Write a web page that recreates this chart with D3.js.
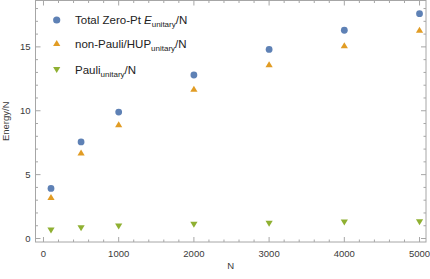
<!DOCTYPE html>
<html><head><meta charset="utf-8">
<script src="https://cdn.jsdelivr.net/npm/d3@7"></script>
<style>body{margin:0;background:#fff}svg{display:block;font-family:"Liberation Sans",Arial,sans-serif}</style>
</head><body><svg id="c" width="430" height="279"></svg>
<script>
const Nvals = [100, 500, 1000, 2000, 3000, 4000, 5000];
const totalE = [3.92, 7.56, 9.9, 12.8, 14.8, 16.3, 17.6];
const nonPauli = [3.22, 6.7, 8.92, 11.7, 13.6, 15.1, 16.3];
const pauli = [0.66, 0.84, 0.98, 1.1, 1.19, 1.29, 1.31];
const xTicks = [0, 1000, 2000, 3000, 4000, 5000];
const yTicks = [0, 5, 10, 15];

const svg = d3.select("#c");
const L = 35.5, R = 426, T = 0.5, B = 242;
const x = d3.scaleLinear().domain([-106, 5086]).range([L, R]);
const y = d3.scaleLinear().domain([-0.273, 18.63]).range([B, T]);
const frameCol = "#a6a6a6", labCol = "#3a3a3a";

// frame
svg.append("rect").attr("x", L).attr("y", T).attr("width", R - L).attr("height", B - T)
  .attr("fill", "none").attr("stroke", frameCol).attr("stroke-width", 1);

const xMinor = d3.range(-0, 5001, 200).filter(v => v % 1000 !== 0);
const yMinor = d3.range(0, 19, 1).filter(v => v % 5 !== 0);
const g = svg.append("g").attr("stroke", frameCol).attr("stroke-width", 1);
xTicks.forEach(v => { const px = x(v);
  g.append("line").attr("x1", px).attr("x2", px).attr("y1", B).attr("y2", B - 5);
  g.append("line").attr("x1", px).attr("x2", px).attr("y1", T).attr("y2", T + 5); });
xMinor.forEach(v => { const px = x(v);
  g.append("line").attr("x1", px).attr("x2", px).attr("y1", B).attr("y2", B - 2.5);
  g.append("line").attr("x1", px).attr("x2", px).attr("y1", T).attr("y2", T + 2.5); });
yTicks.forEach(v => { const py = y(v);
  g.append("line").attr("x1", L).attr("x2", L + 5).attr("y1", py).attr("y2", py);
  g.append("line").attr("x1", R).attr("x2", R - 5).attr("y1", py).attr("y2", py); });
yMinor.forEach(v => { const py = y(v);
  g.append("line").attr("x1", L).attr("x2", L + 2.5).attr("y1", py).attr("y2", py);
  g.append("line").attr("x1", R).attr("x2", R - 2.5).attr("y1", py).attr("y2", py); });

// tick labels
svg.append("g").selectAll("text").data(xTicks).join("text")
  .attr("x", d => x(d)).attr("y", 257).attr("text-anchor", "middle")
  .attr("font-size", 9.5).attr("fill", labCol).text(d => d);
svg.append("g").selectAll("text").data(yTicks).join("text")
  .attr("x", 30.5).attr("y", d => y(d) + 3.4).attr("text-anchor", "end")
  .attr("font-size", 9.5).attr("fill", labCol).text(d => d);

// axis titles
svg.append("text").attr("x", (L + R) / 2).attr("y", 269).attr("text-anchor", "middle")
  .attr("font-size", 9.5).attr("fill", labCol).text("N");
svg.append("text").attr("transform", `translate(8.5,${(T + B) / 2}) rotate(-90)`)
  .attr("text-anchor", "middle").attr("font-size", 9.5).attr("fill", labCol).text("Energy/N");

const blue = "#5E81B5", orange = "#E19C24", green = "#8FB032";
const triUp = d3.symbol().type(d3.symbolTriangle).size(26);
function triDown(cx, cy) { return `M${cx - 3.6},${cy - 2.6}L${cx + 3.6},${cy - 2.6}L${cx},${cy + 3.4}Z`; }
function triUpP(cx, cy) { return `M${cx - 3.6},${cy + 2.6}L${cx + 3.6},${cy + 2.6}L${cx},${cy - 3.4}Z`; }

const pts = svg.append("g");
pts.selectAll("circle").data(Nvals).join("circle")
  .attr("cx", d => x(d)).attr("cy", (d, i) => y(totalE[i])).attr("r", 3.4).attr("fill", blue);
pts.selectAll("path.o").data(Nvals).join("path").attr("class", "o")
  .attr("d", (d, i) => triUpP(x(d), y(nonPauli[i]))).attr("fill", orange);
pts.selectAll("path.g").data(Nvals).join("path").attr("class", "g")
  .attr("d", (d, i) => triDown(x(d), y(pauli[i]))).attr("fill", green);

// legend
const lg = svg.append("g");
const lx = 56.7, tx = 75;
lg.append("circle").attr("cx", lx).attr("cy", 20).attr("r", 3.6).attr("fill", blue);
lg.append("path").attr("d", triUpP(lx, 43.5)).attr("fill", orange);
lg.append("path").attr("d", triDown(lx, 69.5)).attr("fill", green);
const fs = 11.5;
const t1 = lg.append("text").attr("x", tx).attr("y", 24).attr("font-size", fs).attr("fill", "#222");
t1.append("tspan").text("Total Zero-Pt ");
t1.append("tspan").attr("font-style", "italic").text("E");
t1.append("tspan").attr("font-size", 8).attr("dy", 2.5).text("unitary");
t1.append("tspan").attr("dy", -2.5).text("/N");
const t2 = lg.append("text").attr("x", tx).attr("y", 48).attr("font-size", fs).attr("fill", "#222");
t2.append("tspan").text("non-Pauli/HUP");
t2.append("tspan").attr("font-size", 8).attr("dy", 2.5).text("unitary");
t2.append("tspan").attr("dy", -2.5).text("/N");
const t3 = lg.append("text").attr("x", tx).attr("y", 74).attr("font-size", fs).attr("fill", "#222");
t3.append("tspan").text("Pauli");
t3.append("tspan").attr("font-size", 8).attr("dy", 2.5).text("unitary");
t3.append("tspan").attr("dy", -2.5).text("/N");
</script></body></html>
